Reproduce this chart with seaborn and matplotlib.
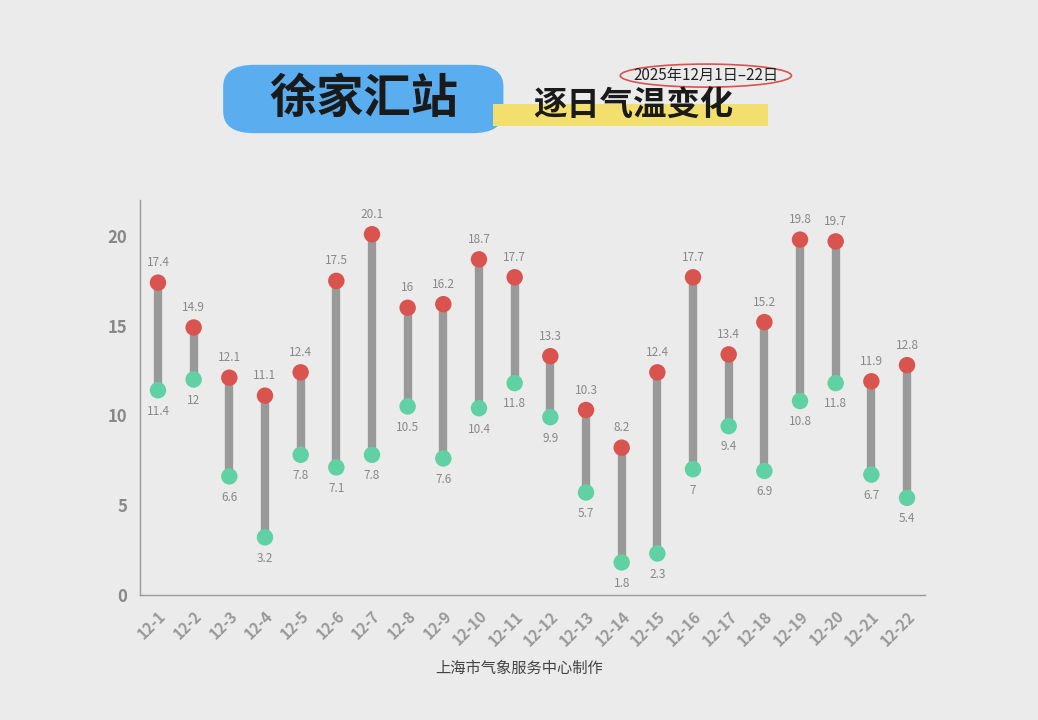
import matplotlib
matplotlib.use("Agg")
import matplotlib.pyplot as plt
import seaborn as sns
import pandas as pd
from matplotlib.patches import Ellipse, FancyBboxPatch

dates = [f"12-{i}" for i in range(1, 23)]
highs = [17.4, 14.9, 12.1, 11.1, 12.4, 17.5, 20.1, 16, 16.2, 18.7, 17.7, 13.3, 10.3, 8.2, 12.4, 17.7, 13.4, 15.2, 19.8, 19.7, 11.9, 12.8]
lows = [11.4, 12, 6.6, 3.2, 7.8, 7.1, 7.8, 10.5, 7.6, 10.4, 11.8, 9.9, 5.7, 1.8, 2.3, 7, 9.4, 6.9, 10.8, 11.8, 6.7, 5.4]

sns.set_theme(style="white")
plt.rcParams['font.family'] = ['Noto Sans CJK SC', 'DejaVu Sans']

bg = "#ebebeb"
fig = plt.figure(figsize=(10.38, 7.2), dpi=100, facecolor=bg)
ax = fig.add_axes([0.135, 0.174, 0.756, 0.548], facecolor=bg)

df = pd.DataFrame({"date": dates, "high": highs, "low": lows})
x = list(range(len(dates)))
ax.vlines(x, df["low"], df["high"], color="#999999", linewidth=6, zorder=1)
sns.scatterplot(x=x, y=df["high"], ax=ax, color="#d9534f", s=140, edgecolor="none", zorder=3)
sns.scatterplot(x=x, y=df["low"], ax=ax, color="#5fd1a5", s=140, edgecolor="none", zorder=3)

def fmt(v):
    return f"{v:g}"
for i in x:
    ax.text(i, highs[i] + 0.75, fmt(highs[i]), ha="center", va="bottom", fontsize=8.5, color="#888888")
    ax.text(i, lows[i] - 0.8, fmt(lows[i]), ha="center", va="top", fontsize=8.5, color="#888888")

ax.set_xlim(-0.5, len(dates) - 0.5)
ax.set_ylim(0, 22)
ax.set_yticks([0, 5, 10, 15, 20])
ax.set_xticks(x)
ax.set_xticklabels(dates, rotation=45, ha="right", rotation_mode="anchor", fontsize=11, fontweight="bold", color="#999999")
ax.tick_params(axis="y", labelsize=12, labelcolor="#888888")
for t in ax.get_yticklabels():
    t.set_fontweight("bold")
ax.set_xlabel("")
ax.set_ylabel("")
for s in ["top", "right"]:
    ax.spines[s].set_visible(False)
for s in ["left", "bottom"]:
    ax.spines[s].set_color("#999999")
    ax.spines[s].set_linewidth(1)

# Title decorations
fig.patches.append(FancyBboxPatch((0.225, 0.825), 0.25, 0.075, boxstyle="round,pad=0.01,rounding_size=0.03",
                                  transform=fig.transFigure, facecolor="#5aaef0", edgecolor="none", zorder=0))
fig.patches.append(FancyBboxPatch((0.475, 0.825), 0.265, 0.03, boxstyle="square,pad=0",
                                  transform=fig.transFigure, facecolor="#f2df6e", edgecolor="none", zorder=0))
fig.text(0.35, 0.862, "徐家汇站", ha="center", va="center", fontsize=34, fontweight="black", color="#1a1a1a")
fig.text(0.61, 0.852, "逐日气温变化", ha="center", va="center", fontsize=24, fontweight="black", color="#1a1a1a")
fig.patches.append(Ellipse((0.68, 0.895), 0.165, 0.032, transform=fig.transFigure, facecolor="none",
                           edgecolor="#d9534f", linewidth=1.2))
fig.text(0.68, 0.895, "2025年12月1日–22日", ha="center", va="center", fontsize=11, color="#222222")
fig.text(0.5, 0.072, "上海市气象服务中心制作", ha="center", va="center", fontsize=11, color="#444444")

fig.savefig("out.png", dpi=100, facecolor=bg)
